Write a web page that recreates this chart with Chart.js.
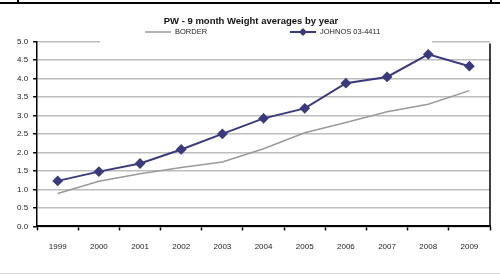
<!DOCTYPE html>
<html>
<head>
<meta charset="utf-8">
<script src="https://cdn.jsdelivr.net/npm/chart.js@4/dist/chart.umd.min.js"></script>
<style>
  html, body { margin: 0; padding: 0; background: #fff; }
  #wrap { width: 500px; height: 276px; }
</style>
</head>
<body>
<div id="wrap"><canvas id="grafico"></canvas></div>
<script>
const anos = ['1999', '2000', '2001', '2002', '2003', '2004', '2005', '2006', '2007', '2008', '2009'];
const borderValores = [0.89, 1.22, 1.42, 1.59, 1.74, 2.10, 2.53, 2.81, 3.10, 3.30, 3.67];
const johnosValores = [1.23, 1.48, 1.70, 2.08, 2.50, 2.92, 3.19, 3.87, 4.04, 4.65, 4.33];
const serieNomes = ['BORDER', 'JOHNOS 03-4411'];
const titulo = 'PW - 9 month Weight averages by year';

const fonte = "'Liberation Sans', Arial, sans-serif";

// legenda estilo Excel (linha com marcador) + moldura
const decoracao = {
    id: 'decoracao',
    beforeDatasetsDraw(chart) {
        const { ctx, chartArea } = chart;
        // fundo branco da legenda sobre a linha de grade do topo
        ctx.save();
        ctx.fillStyle = '#fff';
        ctx.fillRect(100, chartArea.top - 4, 332, 8);
        ctx.restore();
    },
    afterDraw(chart) {
        const { ctx, chartArea } = chart;
        ctx.save();
        // borda direita da area do grafico
        ctx.strokeStyle = '#000';
        ctx.lineWidth = 1.5;
        ctx.beginPath();
        ctx.moveTo(chartArea.right, chartArea.top + 2);
        ctx.lineTo(chartArea.right, chartArea.bottom);
        ctx.stroke();
        // linha preta no topo da imagem
        ctx.lineWidth = 2;
        ctx.beginPath();
        ctx.moveTo(0, 3);
        ctx.lineTo(500, 3);
        ctx.moveTo(18, 0);
        ctx.lineTo(18, 3);
        ctx.moveTo(491, 0);
        ctx.lineTo(491, 3);
        ctx.stroke();
        // linha cinza clara embaixo
        ctx.strokeStyle = '#d8d8d8';
        ctx.lineWidth = 1;
        ctx.beginPath();
        ctx.moveTo(0, 273.5);
        ctx.lineTo(500, 273.5);
        ctx.stroke();

        // legenda
        const itensX = [145, 290];
        const y = 32;
        chart.data.datasets.forEach((ds, i) => {
            const x = itensX[i];
            ctx.strokeStyle = ds.borderColor;
            ctx.lineWidth = ds.borderWidth;
            ctx.beginPath();
            ctx.moveTo(x, y);
            ctx.lineTo(x + 26, y);
            ctx.stroke();
            if (ds.pointRadius > 0) {
                ctx.fillStyle = ds.pointBackgroundColor;
                ctx.beginPath();
                ctx.moveTo(x + 13, y - 4);
                ctx.lineTo(x + 17, y);
                ctx.lineTo(x + 13, y + 4);
                ctx.lineTo(x + 9, y);
                ctx.closePath();
                ctx.fill();
            }
            ctx.fillStyle = '#222';
            ctx.font = '7.5px ' + fonte;
            ctx.textBaseline = 'middle';
            ctx.textAlign = 'left';
            ctx.fillText(ds.label, x + 30, y);
        });
        ctx.restore();
    }
};

const grafico = new Chart(document.getElementById('grafico').getContext('2d'), {
    type: 'line',
    data: {
        labels: anos,
        datasets: [
            {
                label: serieNomes[0], data: borderValores,
                borderColor: '#9a9a9a', borderWidth: 1.5,
                pointRadius: 0, tension: 0, order: 2
            },
            {
                label: serieNomes[1], data: johnosValores,
                borderColor: '#3b3a7c', borderWidth: 2,
                pointStyle: 'rectRot', pointRadius: 4,
                pointBackgroundColor: '#3b3a7c', pointBorderColor: '#3b3a7c',
                tension: 0, order: 1
            }
        ]
    },
    options: {
        responsive: true,
        maintainAspectRatio: false,
        animation: false,
        layout: { padding: { left: 12, right: 10, top: 0, bottom: 12 } },
        plugins: {
            legend: { display: false },
            tooltip: { enabled: false },
            title: {
                display: true, text: titulo, color: '#111',
                font: { family: fonte, size: 9.5, weight: 'bold' },
                padding: { top: 16, bottom: 14 }
            }
        },
        scales: {
            x: {
                offset: true,
                grid: { offset: true, drawOnChartArea: false, drawTicks: true, tickLength: 4, tickColor: '#000', tickWidth: 1.5 },
                border: { color: '#000', width: 2 },
                ticks: { color: '#222', font: { family: fonte, size: 8 }, padding: 12, maxRotation: 0, autoSkip: false }
            },
            y: {
                min: 0, max: 5,
                ticks: { stepSize: 0.5, color: '#222', font: { family: fonte, size: 8 }, padding: 5,
                    callback: (v) => v.toFixed(1) },
                grid: { color: '#bdbdbd', lineWidth: 1.5, tickLength: 4, tickColor: '#000', tickWidth: 1.5 },
                border: { color: '#000', width: 1.5 }
            }
        }
    },
    plugins: [decoracao]
});
</script>
</body>
</html>
